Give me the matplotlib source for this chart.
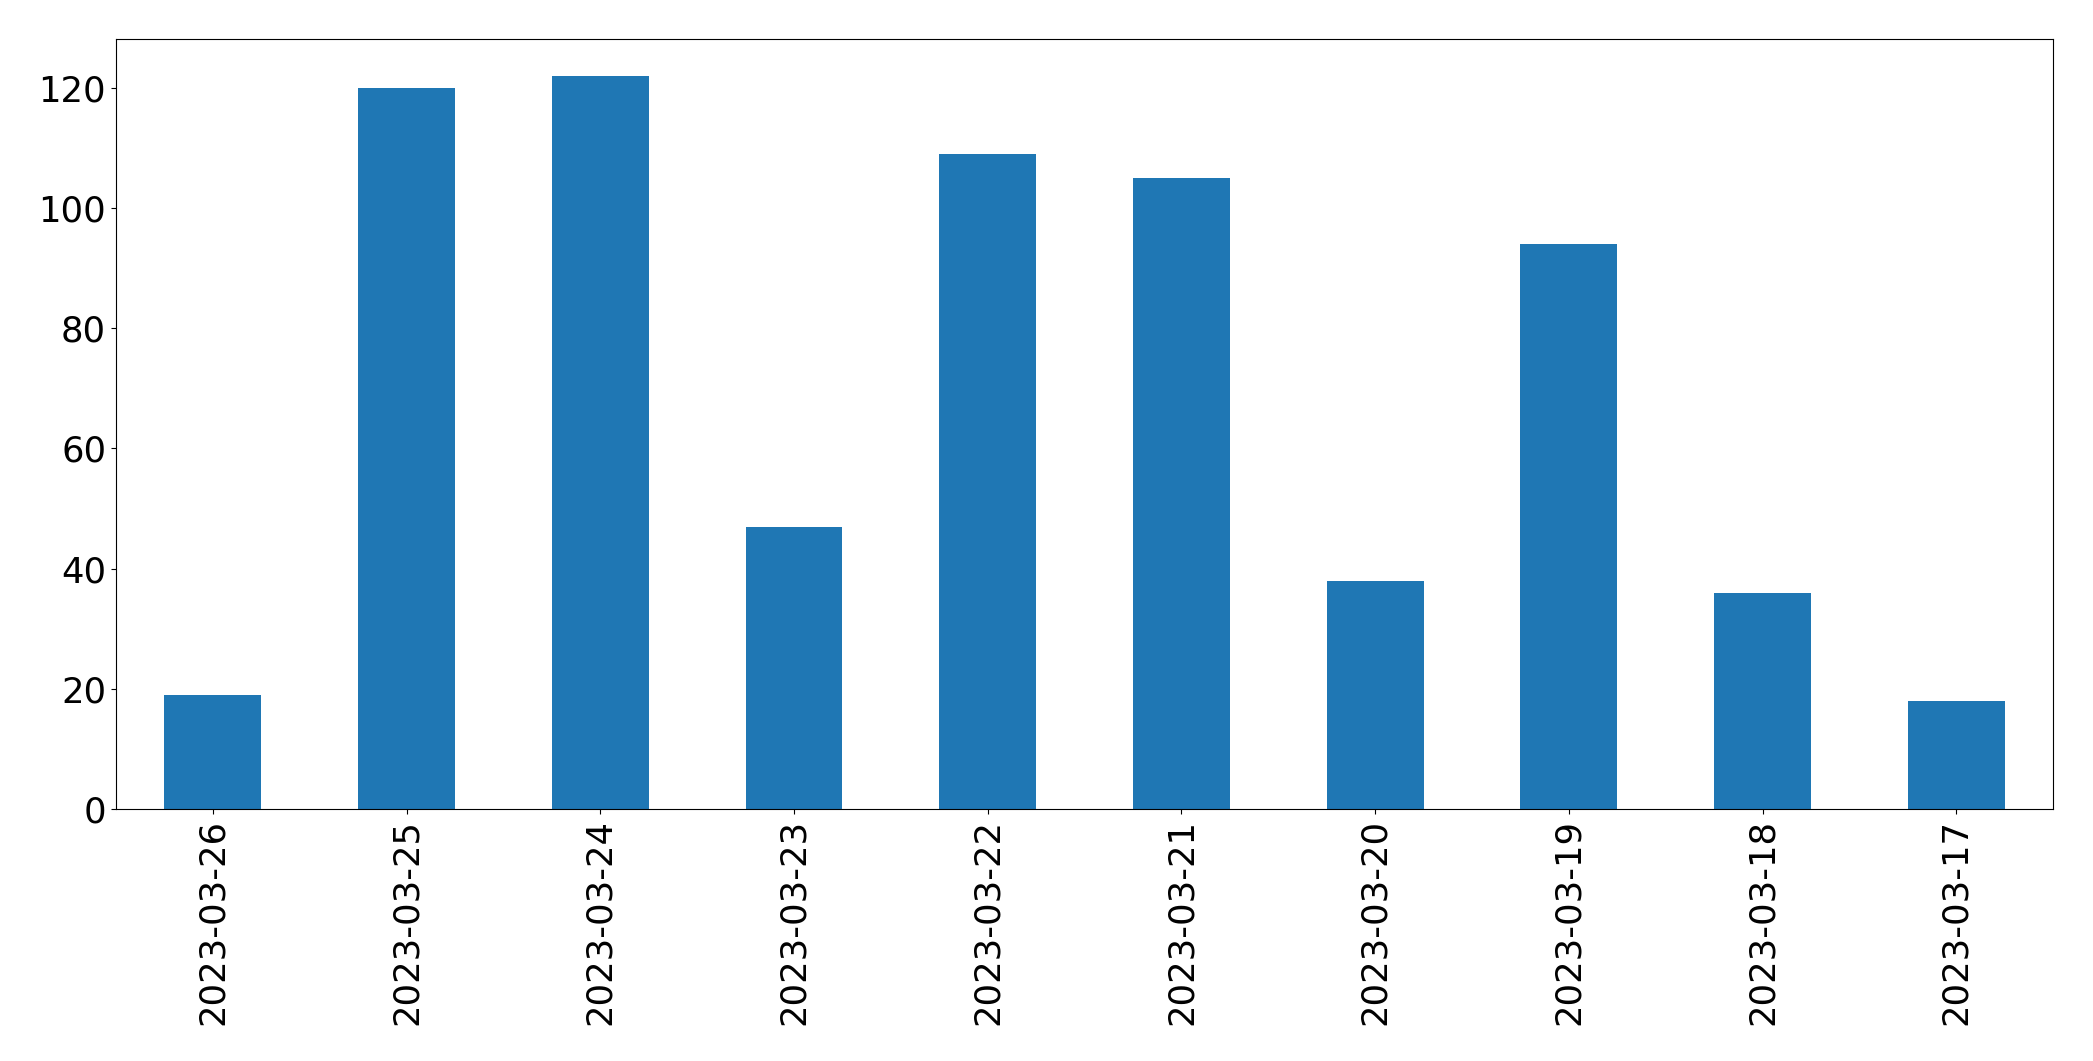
import matplotlib
matplotlib.use('Agg')
import matplotlib.pyplot as plt

# daily counts, newest first (as in the reference)
dates = ['2023-03-26', '2023-03-25', '2023-03-24', '2023-03-23', '2023-03-22',
         '2023-03-21', '2023-03-20', '2023-03-19', '2023-03-18', '2023-03-17']
counts = [19, 120, 122, 47, 109, 105, 38, 94, 36, 18]

fig = plt.figure(figsize=(20.93, 10.61), dpi=100)
ax = fig.add_subplot(111)
x = range(len(dates))
ax.bar(x, counts, width=0.5, color='#1f77b4')
ax.set_xticks(list(x))
ax.set_xticklabels(dates, rotation=90)
ax.set_xlim(-0.5, len(dates) - 0.5)
ax.set_ylim(0, max(counts) * 1.05)
ax.tick_params(labelsize=25.5)

fig.subplots_adjust(left=0.0554, right=0.981, top=0.9632, bottom=0.2375)
fig.savefig('out.png', dpi=100)
